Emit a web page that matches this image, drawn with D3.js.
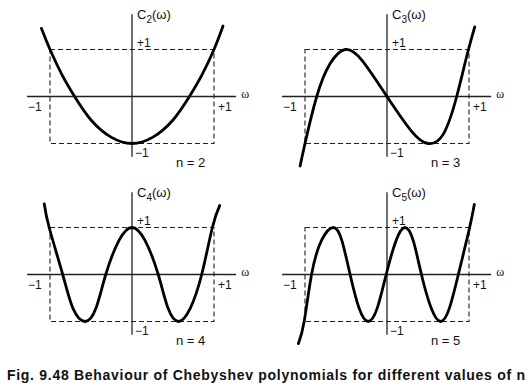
<!DOCTYPE html>
<html>
<head>
<meta charset="utf-8">
<script src="https://cdn.jsdelivr.net/npm/d3@7"></script>
<style>
  body { margin: 0; background: #fff; }
  text { font-family: "Liberation Sans", Arial, sans-serif; fill: #111; }
</style>
</head>
<body>
<script>
// values (omega, C_n(omega))
var orders = [2, 3, 4, 5];

var omegaC2 = [-1.105, -1.0, -0.85, -0.70, -0.5, -0.25, 0, 0.25, 0.5, 0.70, 0.85, 1.0, 1.11];
var valueC2 = [1.45, 1.0, 0.45, 0, -0.5, -0.87, -1, -0.87, -0.5, 0, 0.45, 1.0, 1.5];

var omegaC3 = [-1.06, -1.0, -0.857, -0.695, -0.51, -0.3, 0, 0.3, 0.5, 0.687, 0.85, 0.97, 1.07];
var valueC3 = [-1.48, -1.0, 0, 0.695, 1, 0.76, 0, -0.74, -1, -0.8, 0, 0.84, 1.48];

var omegaC4 = [-1.07, -1.01, -0.845, -0.72, -0.573, -0.44, -0.32, -0.16, 0, 0.16, 0.32, 0.44, 0.57, 0.71, 0.85, 0.98, 1.07];
var valueC4 = [1.50, 1.0, 0, -0.72, -1, -0.72, 0, 0.72, 1, 0.72, 0, -0.72, -1, -0.72, 0, 1.0, 1.47];

var omegaC5 = [-1.08, -1.01, -0.92, -0.8, -0.655, -0.55, -0.45, -0.34, -0.23, -0.12, -0.01,
               0.11, 0.22, 0.32, 0.42, 0.54, 0.655, 0.76, 0.87, 1.0, 1.065];
var valueC5 = [-1.47, -1.0, 0, 0.72, 1, 0.72, 0, -0.72, -1, -0.72, 0,
               0.72, 1, 0.72, 0, -0.72, -1, -0.72, 0, 0.94, 1.49];

var omegas = [omegaC2, omegaC3, omegaC4, omegaC5];
var values = [valueC2, valueC3, valueC4, valueC5];

// axis extents and tick labels
var axisOmega = [-1.28, 1.27];
var axisC = [-1.28, 1.75];
var tickLabels = ["\u22121", "+1"];
var caption = "Fig. 9.48 Behaviour of Chebyshev polynomials for different values of n";

var width = 531, height = 391;
var colLeft = [50, 305];
var rowTop = [49.5, 227.5];
var boxW = 164, boxH = 94;

var svg = d3.select("body")
            .append("svg")
            .attr("width", width)
            .attr("height", height);

orders.forEach(function(n, i) {
  var left = colLeft[i % 2];
  var top = rowTop[Math.floor(i / 2)];

  var x = d3.scaleLinear().domain([-1, 1]).range([left, left + boxW]);
  var y = d3.scaleLinear().domain([-1, 1]).range([top + boxH, top]);

  var g = svg.append("g");

  // dashed box |omega| <= 1, |C| <= 1
  g.append("rect")
   .attr("x", x(-1))
   .attr("y", y(1))
   .attr("width", x(1) - x(-1))
   .attr("height", y(-1) - y(1))
   .attr("fill", "none")
   .attr("stroke", "#222")
   .attr("stroke-width", 1.1)
   .style("stroke-dasharray", "5, 3");

  // axes
  g.append("line")
   .attr("x1", x(axisOmega[0])).attr("x2", x(axisOmega[1]))
   .attr("y1", y(0)).attr("y2", y(0))
   .attr("stroke", "#222").attr("stroke-width", 1.3);
  g.append("line")
   .attr("x1", x(0)).attr("x2", x(0))
   .attr("y1", y(axisC[0])).attr("y2", y(axisC[1]))
   .attr("stroke", "#222").attr("stroke-width", 1.3);

  // curve
  var pts = omegas[i].map(function(w, k) { return [w, values[i][k]]; });
  var line_plot = d3.line()
                    .x(function(d) { return x(d[0]); })
                    .y(function(d) { return y(d[1]); })
                    .curve(d3.curveNatural);
  g.append("path")
   .attr("d", line_plot(pts))
   .attr("fill", "none")
   .attr("stroke", "#000")
   .attr("stroke-width", 2.8)
   .attr("stroke-linecap", "round");

  // title C_n(omega)
  var t = g.append("text")
           .attr("x", x(0) + 5)
           .attr("y", y(axisC[1]) + 5)
           .style("font-size", "13px");
  t.append("tspan").text("C");
  t.append("tspan").attr("dy", 4).style("font-size", "10px").text(n);
  t.append("tspan").attr("dy", -4).text("(\u03c9)");

  // tick labels
  g.append("text").attr("x", x(0) + 5).attr("y", y(1) - 3)
   .style("font-size", "12px").text(tickLabels[1]);
  g.append("text").attr("x", x(0) + 3).attr("y", y(-1) + 13)
   .style("font-size", "12px").text(tickLabels[0]);
  g.append("text").attr("x", x(-1) - 22).attr("y", y(0) + 14)
   .style("font-size", "12px").text(tickLabels[0]);
  g.append("text").attr("x", x(1) + 4).attr("y", y(0) + 14)
   .style("font-size", "12px").text(tickLabels[1]);

  // omega label
  g.append("text").attr("x", x(axisOmega[1]) + 5).attr("y", y(0) + 1)
   .style("font-family", "'Liberation Serif', serif")
   .style("font-size", "12px").text("\u03c9");

  // n label
  g.append("text").attr("x", x(0) + 44).attr("y", y(-1) + 23)
   .style("font-size", "13px").text("n = " + n);
});

svg.append("text")
   .attr("x", 7)
   .attr("y", 380)
   .attr("textLength", 518)
   .attr("lengthAdjust", "spacing")
   .style("font-size", "14px")
   .style("font-weight", "bold")
   .text(caption);
</script>
</body>
</html>
